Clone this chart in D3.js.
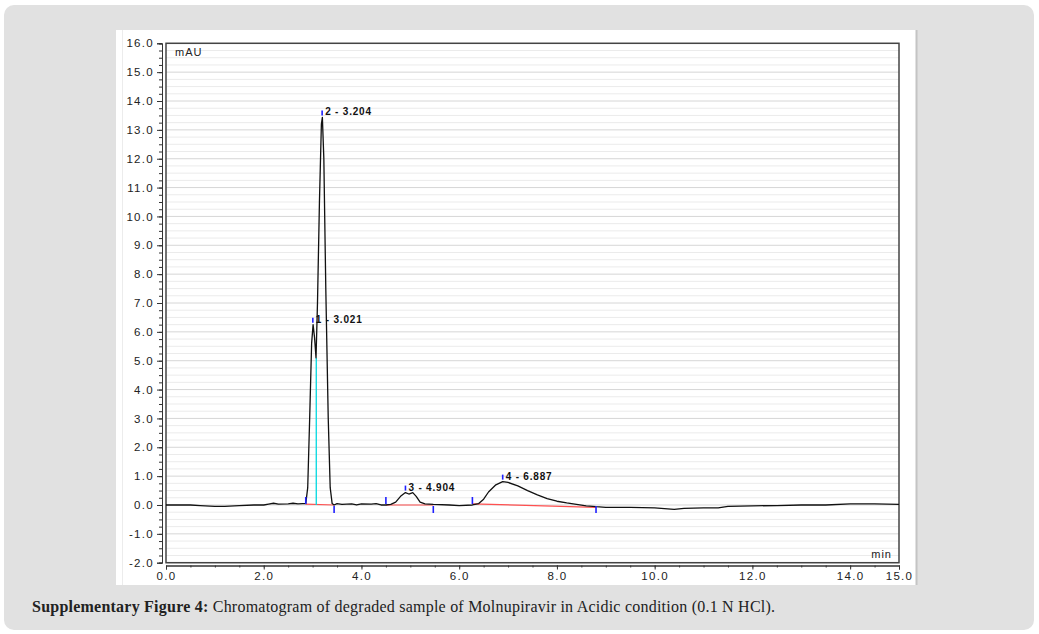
<!DOCTYPE html>
<html><head><meta charset="utf-8">
<script src="https://cdn.jsdelivr.net/npm/d3@7"></script>
<style>body{margin:0;background:#fff}svg{display:block}</style>
</head><body>
<svg id="c" width="1039" height="634"></svg>
<script>
// ---- data ----
const times  = [0.0,0.5,0.7,1.0,1.2,1.5,1.8,2.0,2.1,2.2,2.3,2.5,2.6,2.7,2.8,2.86,2.9,2.94,2.98,3.01,3.04,3.07,3.1,3.14,3.18,3.2,3.23,3.27,3.32,3.36,3.4,3.44,3.5,3.6,3.8,3.9,4.0,4.2,4.3,4.4,4.5,4.6,4.7,4.8,4.9,4.97,5.05,5.12,5.2,5.3,5.47,5.8,6.0,6.27,6.4,6.5,6.6,6.75,6.89,7.0,7.2,7.4,7.6,7.8,8.0,8.2,8.4,8.6,8.8,9.0,9.5,10.0,10.4,10.6,11.0,11.3,11.5,12.0,12.5,13.0,13.5,14.0,14.5,15.0];
const signal = [0.0,0.0,-0.02,-0.05,-0.05,-0.02,0.0,0.0,0.03,0.06,0.03,0.04,0.06,0.04,0.05,0.05,0.6,3.0,5.6,6.25,5.8,5.1,7.0,10.5,13.2,13.43,12.0,7.5,3.0,0.6,0.05,0.0,0.05,0.02,0.04,0.0,0.04,0.03,0.05,0.0,0.0,0.02,0.1,0.3,0.43,0.38,0.43,0.3,0.1,0.04,0.02,0.0,-0.02,0.0,0.05,0.2,0.45,0.7,0.81,0.78,0.66,0.5,0.35,0.22,0.13,0.07,0.02,-0.03,-0.06,-0.08,-0.08,-0.1,-0.15,-0.12,-0.1,-0.1,-0.05,-0.03,-0.02,0.0,0.0,0.04,0.04,0.02];
const peakNames  = ["1 - 3.021","2 - 3.204","3 - 4.904","4 - 6.887"];
const peakTimes  = [3.005,3.195,4.9,6.89];
const peakHeights= [6.25,13.43,0.43,0.81];
const markerTimes = [2.86,3.44,4.5,5.47,6.27,8.8];
const markerSides = [1,-1,1,-1,1,-1];
const baseStart = [[2.86,0.03],[4.5,0.0],[6.27,0.04]];
const baseEnd   = [[3.44,0.0],[5.47,0.0],[8.8,-0.08]];
const dropTime = 3.075, dropValue = 5.1;
const yTickLabels = d3.range(-2,16.01,1);
const xTickLabels = [0,2,4,6,8,10,12,14,15];
const caption = ["Supplementary Figure 4:"," Chromatogram of degraded sample of Molnupiravir in Acidic condition (0.1 N HCl)."];

// ---- drawing ----
const fmt = d => d.toFixed(1);
const svg = d3.select("#c");
svg.append("rect").attr("x",4).attr("y",5).attr("width",1030).attr("height",625).attr("rx",10).attr("fill","#e1e1e1");
svg.append("rect").attr("x",116).attr("y",30).attr("width",800).attr("height",555).attr("fill","#fff");
svg.append("line").attr("x1",916.5).attr("x2",916.5).attr("y1",30).attr("y2",585).attr("stroke","#c4c4c4").attr("stroke-width",2);
svg.append("line").attr("x1",122.5).attr("x2",122.5).attr("y1",30).attr("y2",585).attr("stroke","#ececec").attr("stroke-width",1);

const L=166, R=899, T=43.3, B=562.7;
const x = d3.scaleLinear().domain([0,15]).range([L,R]);
const y = d3.scaleLinear().domain([-2,16]).range([B,T]);

// grid
const g = svg.append("g");
g.selectAll("line.minor").data(d3.range(-2,16.001,0.25)).join("line")
  .attr("x1",L).attr("x2",R).attr("y1",d=>y(d)).attr("y2",d=>y(d))
  .attr("stroke",d=>Math.abs(d-Math.round(d))<1e-6?"#d6d6d6":"#ebebeb").attr("stroke-width",1);

// frame
svg.append("rect").attr("x",L).attr("y",T).attr("width",R-L).attr("height",B-T)
  .attr("fill","none").attr("stroke","#444").attr("stroke-width",1.5);

const axisFont = "Liberation Sans, Arial, sans-serif";
// y axis
const ya = svg.append("g").attr("transform","translate(162,0)");
ya.call(d3.axisLeft(y).tickValues(d3.range(-2,16.001,0.25)).tickSize(3).tickFormat(""));
ya.append("g").call(d3.axisLeft(y).tickValues(yTickLabels).tickSize(5).tickFormat(fmt).tickPadding(3));
ya.selectAll("path.domain").attr("stroke","#333");
ya.selectAll("line").attr("stroke","#333");
ya.selectAll("text").attr("font-family",axisFont).attr("font-size",11.5)
  .attr("letter-spacing","1.3px").attr("fill","#222");

// x axis
const xa = svg.append("g").attr("transform","translate(0,565.5)");
xa.call(d3.axisBottom(x).tickValues(d3.range(0,15.001,0.5)).tickSize(2).tickFormat(""));
xa.append("g").call(d3.axisBottom(x).tickValues(xTickLabels).tickSize(4).tickFormat(fmt).tickPadding(1));
xa.selectAll("path.domain").attr("stroke","#333");
xa.selectAll("line").attr("stroke","#333");
xa.selectAll("text").attr("font-family",axisFont).attr("font-size",11.5)
  .attr("letter-spacing","1.3px").attr("fill","#222").attr("dy","0.85em");

// units
svg.append("text").attr("x",175).attr("y",56).text("mAU")
  .attr("font-family",axisFont).attr("font-size",11).attr("letter-spacing","1px").attr("fill","#222");
svg.append("text").attr("x",892).attr("y",558).attr("text-anchor","end").text("min")
  .attr("font-family",axisFont).attr("font-size",11).attr("letter-spacing","1px").attr("fill","#222");

// baselines (red)
svg.selectAll("line.base").data(baseStart).join("line")
  .attr("x1",d=>x(d[0])).attr("y1",d=>y(d[1]))
  .attr("x2",(d,i)=>x(baseEnd[i][0])).attr("y2",(d,i)=>y(baseEnd[i][1]))
  .attr("stroke","#ff5050").attr("stroke-width",1.2);

// drop line (cyan)
svg.append("line").attr("x1",x(dropTime)).attr("x2",x(dropTime)).attr("y1",y(0)).attr("y2",y(dropValue))
  .attr("stroke","#00d8e0").attr("stroke-width",1.3);

// trace
const pts = times.map((t,i)=>[t,signal[i]]);
svg.append("path").datum(pts).attr("fill","none").attr("stroke","#111").attr("stroke-width",1.3)
  .attr("stroke-linejoin","round")
  .attr("d",d3.line().x(d=>x(d[0])).y(d=>y(d[1])));

// start/end markers
markerTimes.forEach((t,i)=>{
  const y0=y(0);
  svg.append("line").attr("x1",x(t)).attr("x2",x(t))
    .attr("y1",markerSides[i]>0?y0-1:y0+1).attr("y2",markerSides[i]>0?y0-8:y0+8)
    .attr("stroke","#2020ff").attr("stroke-width",1.6);
});

// apex markers + labels
peakTimes.forEach((t,i)=>{
  const py=y(peakHeights[i]);
  svg.append("line").attr("x1",x(t)).attr("x2",x(t)).attr("y1",py-2).attr("y2",py-7)
    .attr("stroke","#2020ff").attr("stroke-width",1.6);
  svg.append("text").attr("x",x(t)+3).attr("y",py-2).text(peakNames[i])
    .attr("font-family",axisFont).attr("font-size",10).attr("font-weight","bold")
    .attr("letter-spacing","0.8px").attr("fill","#111");
});

// caption
const cap = svg.append("text").attr("x",32).attr("y",612)
  .attr("font-family","Liberation Serif, DejaVu Serif, serif").attr("font-size",16).attr("fill","#222");
cap.append("tspan").attr("font-weight","bold").text(caption[0]);
cap.append("tspan").text(caption[1]);
const len = cap.node().getComputedTextLength();
if (len < 743) cap.attr("textLength",743).attr("lengthAdjust","spacing");
</script>
</body></html>
